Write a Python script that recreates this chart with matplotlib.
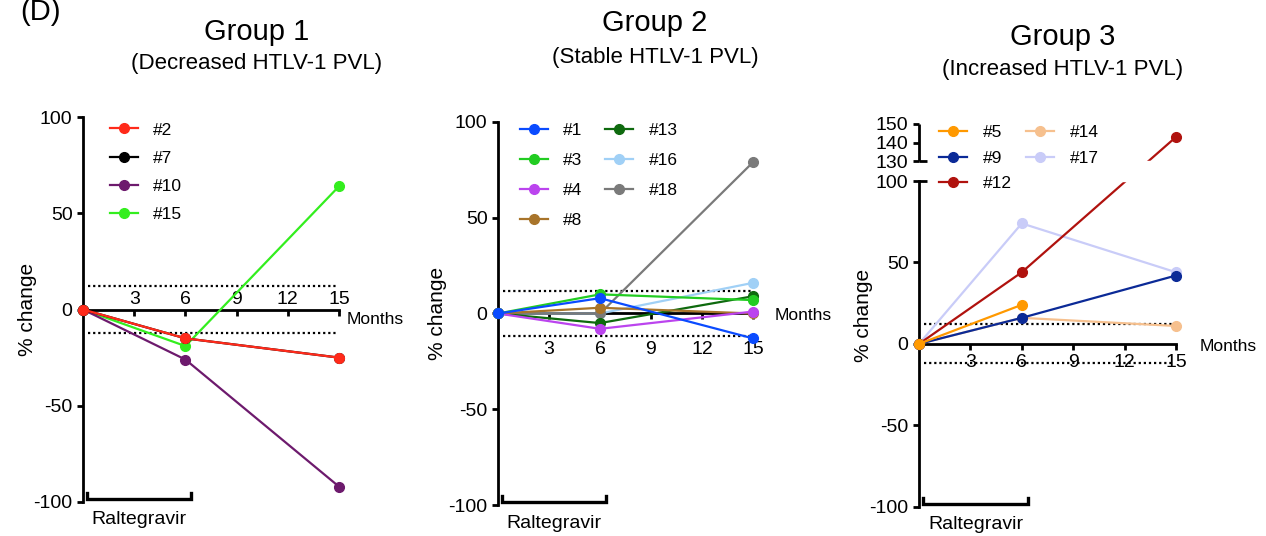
import numpy as np
import matplotlib.pyplot as plt
from matplotlib.lines import Line2D

plt.rcParams['font.family'] = ['Liberation Sans', 'DejaVu Sans']
plt.rcParams['axes.unicode_minus'] = False
plt.rcParams['axes.linewidth'] = 2

W, H = 1266, 536

# shared x data
months = [0, 6, 15]
xtick_months = [3, 6, 9, 12, 15]
threshold = 12
ral_window = [0, 6]

# Group 1 (decreased)
g1_labels = ['#2', '#7', '#10', '#15']
g1_colors = ['#ff2a1a', '#000000', '#6d1a6d', '#33ee1e']
g1_values = [[0, -15, -25],
             [0, -15, -25],
             [0, -26, -92],
             [0, -19, 64]]
g1_order = [3, 2, 1, 0]

# Group 2 (stable)
g2_labels = ['#1', '#3', '#4', '#8', '#13', '#16', '#18']
g2_colors = ['#0a4bff', '#22cc22', '#bb44ee', '#a8742a', '#0e6a0e', '#a0d0f6', '#7a7a7a']
g2_values = [[0, 8, -13],
             [0, 10, 7],
             [0, -8, 1],
             [0, 3, 0],
             [0, -5, 9],
             [0, 0, 16],
             [0, 0, 79]]
g2_order = [5, 6, 4, 3, 2, 1, 0]

# Group 3 (increased)
g3_labels = ['#5', '#9', '#12', '#14', '#17']
g3_colors = ['#ff9900', '#0b2a97', '#b0120e', '#f6c08e', '#c9ccf8']
g3_values = [[0, 24, np.nan],
             [0, 16, 42],
             [0, 44, 143],
             [0, 16, 11],
             [0, 74, 44]]
g3_order = [4, 3, 2, 1, 0]


def px_rect(x0, y_top, x1, y_bot):
    return [x0 / W, 1 - y_bot / H, (x1 - x0) / W, (y_bot - y_top) / H]


def draw_group(ax, labels, colors, values, order):
    for i in order:
        ax.plot(months, values[i], color=colors[i], marker='o', ms=7, lw=1.6,
                clip_on=False, zorder=3)
    handles = [Line2D([], [], color=c, marker='o', ms=7, lw=1.6) for c in colors]
    return handles


def style_axes(ax, xpad, ylab_x, months_off):
    ax.patch.set_visible(False)
    ax.set_xlim(0, 15)
    ax.spines['top'].set_visible(False)
    ax.spines['right'].set_visible(False)
    ax.spines['bottom'].set_position(('data', 0))
    ax.spines['bottom'].set_bounds(0, 15)
    ax.spines['left'].set_bounds(-100, 100)
    ax.set_xticks(xtick_months)
    ax.tick_params(axis='both', direction='out', length=4, width=2, labelsize=14)
    ax.tick_params(axis='x', pad=xpad)
    ax.hlines([threshold, -threshold], 0.3, 14.9, colors='black',
              linestyles=(0, (1, 1.3)), lw=1.6, zorder=2)
    ax.set_ylabel('% change', fontsize=15)
    ax.yaxis.set_label_coords(ylab_x, 0.5)
    ax.annotate('Months', xy=(15, 0), xytext=months_off, textcoords='offset pixels',
                ha='left', va='center', fontsize=12.5)
    # Raltegravir bracket
    tr = ax.get_xaxis_transform()
    bx0, bx1 = ral_window[0] + 0.25, ral_window[1] + 0.35
    ax.plot([bx0, bx0, bx1, bx1], [0.024, 0.008, 0.008, 0.024], color='black',
            lw=2.4, transform=tr, clip_on=False, solid_joinstyle='miter')
    ax.annotate('Raltegravir', xy=((bx0 + bx1) / 2, 0), xycoords=tr,
                xytext=(0, -18), textcoords='offset pixels',
                ha='center', va='center', fontsize=14)


fig = plt.figure(figsize=(W / 100, H / 100), dpi=100)

fig.text(40 / W, 1 - 12 / H, '(D)', ha='center', va='center', fontsize=21)

# Group 1
ax1 = fig.add_axes(px_rect(83, 117, 339, 502))
h1 = draw_group(ax1, g1_labels, g1_colors, g1_values, g1_order)
ax1.set_ylim(-100, 100)
ax1.set_yticks([-100, -50, 0, 50, 100])
style_axes(ax1, -17, -0.18, (8, -10))
ax1.legend(h1, g1_labels, loc='upper left', bbox_to_anchor=(0.105, 0.986),
           frameon=False, fontsize=12.5, borderpad=0, borderaxespad=0,
           handlelength=1.6, handletextpad=0.9, labelspacing=0.75)
fig.text(257 / W, 1 - 32 / H, 'Group 1', ha='center', va='center', fontsize=21)
fig.text(257 / W, 1 - 63 / H, '(Decreased HTLV-1 PVL)', ha='center', va='center', fontsize=16)

# Group 2
ax2 = fig.add_axes(px_rect(498, 122, 753, 505))
h2 = draw_group(ax2, g2_labels, g2_colors, g2_values, g2_order)
ax2.set_ylim(-100, 100)
ax2.set_yticks([-100, -50, 0, 50, 100])
style_axes(ax2, 16, -0.2, (22, -2))
ax2.legend(h2, g2_labels, loc='upper left', bbox_to_anchor=(0.086, 0.997), ncol=2,
           frameon=False, fontsize=12.5, borderpad=0, borderaxespad=0,
           handlelength=1.6, handletextpad=0.9, labelspacing=0.85, columnspacing=1.3)
fig.text(655 / W, 1 - 23 / H, 'Group 2', ha='center', va='center', fontsize=21)
fig.text(655 / W, 1 - 57 / H, '(Stable HTLV-1 PVL)', ha='center', va='center', fontsize=16)

# Group 3 with broken y axis (gap between 100 and 130)
gap_units = 12.3
upper_slope = 1.138


def fwd(y):
    y = np.asarray(y, dtype=float)
    return np.where(y <= 100, y,
                    np.where(y >= 130, 100 + gap_units + (y - 130) * upper_slope,
                             100 + (y - 100) * gap_units / 30))


def inv(u):
    u = np.asarray(u, dtype=float)
    return np.where(u <= 100, u,
                    np.where(u >= 100 + gap_units, 130 + (u - 100 - gap_units) / upper_slope,
                             100 + (u - 100) * 30 / gap_units))


ax3 = fig.add_axes(px_rect(919, 124, 1176, 506.7))
ax3.set_yscale('function', functions=(fwd, inv))
h3 = draw_group(ax3, g3_labels, g3_colors, g3_values, g3_order)
ax3.set_ylim(-100, 150)
ax3.set_yticks([-100, -50, 0, 50, 100, 130, 140, 150])
ax3.set_yticklabels(['-100', '-50', '0', '50', '100', '130', '140', '150'])
ax3.yaxis.set_minor_locator(plt.NullLocator())
style_axes(ax3, 3.5, -0.179, (24, -3))
ax3.axhspan(100, 130, xmin=0.01, xmax=1, color='white', zorder=3.5)
ax3.vlines(0, 130, 150, colors='black', lw=2, clip_on=False, zorder=4)
ax3.hlines([100, 130], 0, 0.45, colors='black', lw=2, clip_on=False, zorder=4)
leg3 = ax3.legend(h3, g3_labels, loc='upper left', bbox_to_anchor=(0.078, 0.997), ncol=2,
                  frameon=False, fontsize=12.5, borderpad=0, borderaxespad=0,
                  handlelength=1.6, handletextpad=0.9, labelspacing=0.6, columnspacing=0.85)
leg3.set_zorder(5)
fig.text(1063 / W, 1 - 37 / H, 'Group 3', ha='center', va='center', fontsize=21)
fig.text(1063 / W, 1 - 70 / H, '(Increased HTLV-1 PVL)', ha='center', va='center', fontsize=16)

fig.savefig('out.png', dpi=100)
